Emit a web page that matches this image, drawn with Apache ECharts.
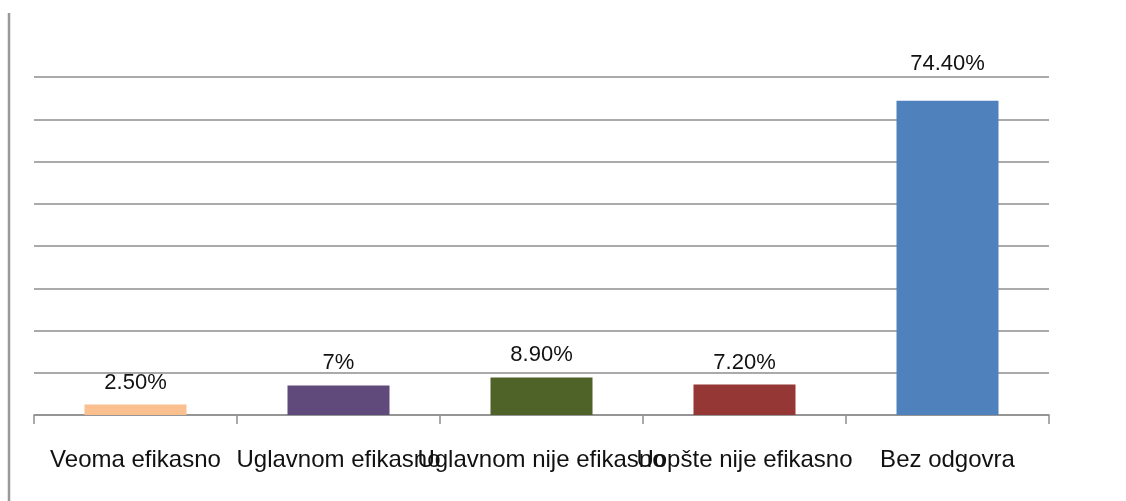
<!DOCTYPE html>
<html>
<head>
<meta charset="utf-8">
<script src="https://cdn.jsdelivr.net/npm/echarts@6/dist/echarts.min.js"></script>
<style>
  html, body { margin: 0; padding: 0; background: #fff; }
  #chart { width: 1126px; height: 501px; }
</style>
</head>
<body>
<div id="chart"></div>
<script>
// podaci sa grafikona
const categories = ['Veoma efikasno', 'Uglavnom efikasno', 'Uglavnom nije efikasno', 'Uopšte nije efikasno', 'Bez odgovra'];
const values = [2.5, 7, 8.9, 7.2, 74.4];
const valueLabels = ['2.50%', '7%', '8.90%', '7.20%', '74.40%'];
const barColors = ['#FAC090', '#604A7B', '#4F6228', '#953735', '#4F81BD'];

const chart = echarts.init(document.getElementById('chart'));

const option = {
  backgroundColor: '#fff',
  animation: false,
  textStyle: { fontFamily: 'Liberation Sans' },
  grid: { left: 34, right: 77, top: 77, bottom: 86 },
  graphic: [
    {
      type: 'line',
      shape: { x1: 9, y1: 13, x2: 9, y2: 501 },
      style: { stroke: '#999', lineWidth: 2.5 }
    }
  ],
  xAxis: {
    type: 'category',
    data: categories,
    boundaryGap: true,
    axisLine: { lineStyle: { color: '#8e8e8e', width: 1.5 } },
    axisTick: { show: true, length: 9, lineStyle: { color: '#8e8e8e', width: 1.5 } },
    axisLabel: {
      interval: 0,
      hideOverlap: false,
      color: '#111',
      fontSize: 24,
      margin: 33
    }
  },
  yAxis: {
    type: 'value',
    min: 0,
    max: 80,
    interval: 10,
    axisLine: { show: false },
    axisTick: { show: false },
    axisLabel: { show: false },
    splitLine: { lineStyle: { color: '#8e8e8e', width: 1.5 } }
  },
  series: [
    {
      type: 'bar',
      barWidth: 102,
      data: values.map((v, i) => ({
        value: v,
        itemStyle: { color: barColors[i] },
        label: { distance: i === 4 ? 26 : 11 }
      })),
      label: {
        show: true,
        position: 'top',
        color: '#111',
        fontSize: 22,
        formatter: p => valueLabels[p.dataIndex]
      }
    }
  ]
};

chart.setOption(option);
</script>
</body>
</html>
